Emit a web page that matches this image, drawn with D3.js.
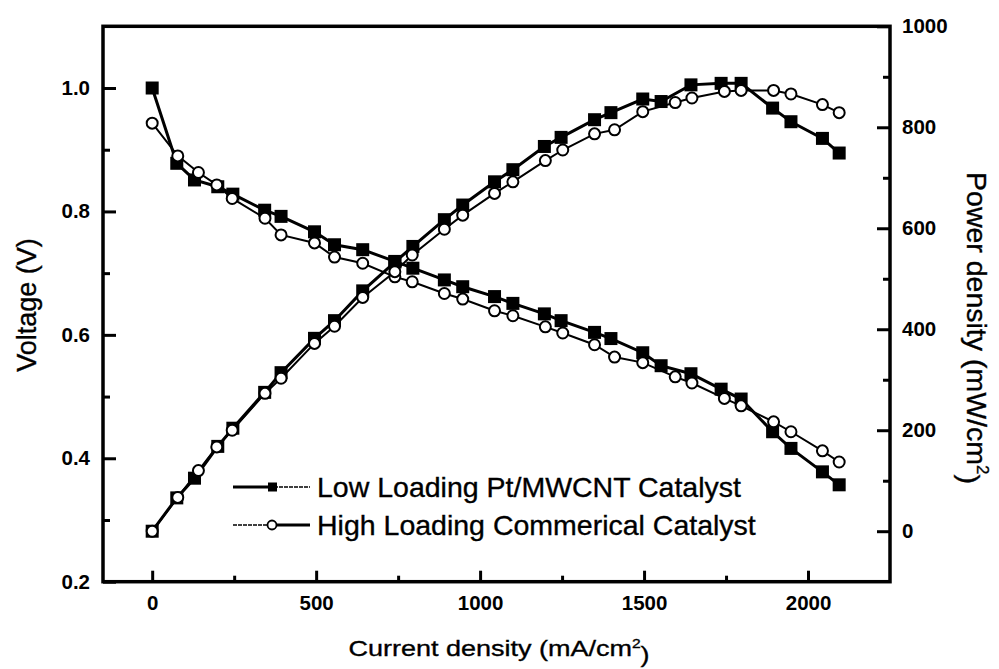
<!DOCTYPE html>
<html>
<head>
<meta charset="utf-8">
<title>Polarization and power density curves</title>
<style>
  body { margin: 0; background: #fff; }
  svg text { font-family: "Liberation Sans", Arial, sans-serif; fill: #000; }
  .tick text { font-weight: bold; font-size: 20.5px; }
  .title { stroke: #000; stroke-width: 0.35px; }
</style>
</head>
<body>
<div class="chart"></div>
<script src="https://cdn.jsdelivr.net/npm/d3@7"></script>
<script>
// current density (mA/cm2), voltage (V), power density (mW/cm2)
var lowI = [0, 75, 129, 200, 246, 343, 393, 495, 556, 642, 740, 795, 891, 947, 1044, 1100, 1196, 1247, 1349, 1399, 1496, 1552, 1643, 1735, 1796, 1892, 1948, 2044, 2095];
var lowV = [1.000, 0.878, 0.851, 0.840, 0.828, 0.802, 0.792, 0.767, 0.746, 0.738, 0.719, 0.708, 0.689, 0.678, 0.662, 0.651, 0.634, 0.623, 0.604, 0.594, 0.571, 0.550, 0.537, 0.512, 0.496, 0.443, 0.416, 0.378, 0.357];
var lowP = [0, 66, 105, 168, 204, 275, 314, 382, 417, 476, 533, 564, 617, 646, 692, 716, 762, 780, 815, 829, 856, 851, 884, 887, 887, 838, 811, 778, 749];

var highI = [0, 78, 141, 197, 244, 344, 393, 495, 556, 642, 740, 793, 891, 947, 1044, 1100, 1199, 1252, 1349, 1410, 1496, 1595, 1646, 1745, 1796, 1895, 1948, 2044, 2095];
var highV = [0.943, 0.890, 0.863, 0.843, 0.821, 0.789, 0.762, 0.749, 0.726, 0.716, 0.694, 0.686, 0.667, 0.658, 0.639, 0.631, 0.613, 0.603, 0.584, 0.564, 0.555, 0.532, 0.522, 0.497, 0.485, 0.459, 0.443, 0.412, 0.394];
var highP = [0, 67, 120, 167, 200, 273, 303, 372, 406, 463, 514, 547, 598, 626, 669, 692, 734, 755, 787, 795, 831, 849, 858, 871, 873, 873, 866, 845, 829];

var xTicks = [0, 500, 1000, 1500, 2000];
var xMinor = [250, 750, 1250, 1750];
var vTicks = [0.2, 0.4, 0.6, 0.8, 1.0];
var vMinor = [0.3, 0.5, 0.7, 0.9];
var pTicks = [0, 200, 400, 600, 800, 1000];
var pMinor = [100, 300, 500, 700, 900];

var legendNames = ["Low Loading Pt/MWCNT Catalyst", "High Loading Commerical Catalyst"];

var w = 999, h = 669;
var pLeft = 103, pRight = 890, pTop = 26.3, pBottom = 581.7;

var svg = d3.select("div.chart").append("svg")
	.attr("width", w)
	.attr("height", h);

var x = d3.scaleLinear().domain([-150, 2250]).range([pLeft, pRight]);
var yV = d3.scaleLinear().domain([0.2, 1.1]).range([pBottom, pTop]);
var yP = d3.scaleLinear().domain([-100, 1000]).range([pBottom, pTop]);

function styleAxis(g) {
	g.select(".domain").remove();
	g.selectAll(".tick line").attr("stroke", "#000").attr("stroke-width", 3);
}

// bottom axis
svg.append("g")
	.attr("transform", "translate(0," + pBottom + ")")
	.call(d3.axisBottom(x).tickValues(xTicks).tickSize(-11).tickPadding(14).tickFormat(d3.format("d")))
	.call(styleAxis);
svg.append("g")
	.attr("transform", "translate(0," + pBottom + ")")
	.call(d3.axisBottom(x).tickValues(xMinor).tickSize(-6).tickFormat(""))
	.call(styleAxis);

// left axis (voltage)
svg.append("g")
	.attr("transform", "translate(" + pLeft + ",0)")
	.call(d3.axisLeft(yV).tickValues(vTicks).tickSize(-13).tickPadding(13).tickFormat(d3.format(".1f")))
	.call(styleAxis);
svg.append("g")
	.attr("transform", "translate(" + pLeft + ",0)")
	.call(d3.axisLeft(yV).tickValues(vMinor).tickSize(-7).tickFormat(""))
	.call(styleAxis);

// right axis (power)
svg.append("g")
	.attr("transform", "translate(" + pRight + ",0)")
	.call(d3.axisRight(yP).tickValues(pTicks).tickSize(-13).tickPadding(12).tickFormat(d3.format("d")))
	.call(styleAxis);
svg.append("g")
	.attr("transform", "translate(" + pRight + ",0)")
	.call(d3.axisRight(yP).tickValues(pMinor).tickSize(-7).tickFormat(""))
	.call(styleAxis);

svg.selectAll(".tick text").attr("fill", "#000");

// frame
svg.append("rect")
	.attr("x", pLeft).attr("y", pTop)
	.attr("width", pRight - pLeft).attr("height", pBottom - pTop)
	.attr("fill", "none")
	.attr("stroke", "#000")
	.attr("stroke-width", 3.5);

function pts(xs, ys) {
	return xs.map(function(d, i){ return [d, ys[i]]; });
}

function drawSeries(data, yScale, filled) {
	var line = d3.line()
		.x(function(d){ return x(d[0]); })
		.y(function(d){ return yScale(d[1]); });

	svg.append("path")
		.datum(data)
		.attr("d", line)
		.attr("fill", "none")
		.attr("stroke", "#000")
		.attr("stroke-width", filled ? 3 : 2);

	if (filled) {
		svg.append("g").selectAll("rect")
			.data(data).enter().append("rect")
			.attr("x", function(d){ return x(d[0]) - 6.5; })
			.attr("y", function(d){ return yScale(d[1]) - 6.5; })
			.attr("width", 13).attr("height", 13)
			.attr("fill", "#000");
	} else {
		svg.append("g").selectAll("circle")
			.data(data).enter().append("circle")
			.attr("cx", function(d){ return x(d[0]); })
			.attr("cy", function(d){ return yScale(d[1]); })
			.attr("r", 5.5)
			.attr("fill", "#fff")
			.attr("stroke", "#000")
			.attr("stroke-width", 2);
	}
}

drawSeries(pts(lowI, lowV), yV, true);
drawSeries(pts(lowI, lowP), yP, true);
drawSeries(pts(highI, highV), yV, false);
drawSeries(pts(highI, highP), yP, false);

// legend
var lg = svg.append("g");
[487, 525].forEach(function(ly, i){
	var solidLeft = (i === 0);
	lg.append("line").attr("x1", 233).attr("x2", 270).attr("y1", ly).attr("y2", ly)
		.attr("stroke", "#000").attr("stroke-width", solidLeft ? 3 : 1.5)
		.attr("stroke-dasharray", solidLeft ? null : "4,1");
	lg.append("line").attr("x1", 274).attr("x2", 310).attr("y1", ly).attr("y2", ly)
		.attr("stroke", "#000").attr("stroke-width", solidLeft ? 1.5 : 3)
		.attr("stroke-dasharray", solidLeft ? "4,1" : null);
	if (i === 0) {
		lg.append("rect").attr("x", 268).attr("y", ly - 4.5).attr("width", 9).attr("height", 9).attr("fill", "#000");
	} else {
		lg.append("circle").attr("cx", 272).attr("cy", ly).attr("r", 4.5)
			.attr("fill", "#fff").attr("stroke", "#000").attr("stroke-width", 1.8);
	}
	lg.append("text")
		.attr("class", "title")
		.attr("x", 317).attr("y", ly + 10)
		.style("font-size", "28.5px")
		.text(legendNames[i]);
});

// axis titles
svg.append("text")
	.attr("class", "title")
	.attr("transform", "translate(36,305) rotate(-90)")
	.attr("text-anchor", "middle")
	.style("font-size", "27px")
	.text("Voltage (V)");

var rt = svg.append("text")
	.attr("class", "title")
	.attr("transform", "translate(967,328) rotate(90)")
	.attr("text-anchor", "middle")
	.style("font-size", "28.5px");
rt.append("tspan").text("Power density (mW/cm");
rt.append("tspan").attr("dy", "-0.6em").style("font-size", "17px").text("2");
rt.append("tspan").attr("dy", "0.6em").text(")");

var xt = svg.append("text")
	.attr("class", "title")
	.attr("transform", "translate(499,656) scale(1.2,1)")
	.attr("text-anchor", "middle")
	.style("font-size", "22.5px");
xt.append("tspan").text("Current density (mA/cm");
xt.append("tspan").attr("dy", "-0.6em").style("font-size", "13px").text("2");
xt.append("tspan").attr("dy", "0.6em").text(")");
</script>
</body>
</html>
